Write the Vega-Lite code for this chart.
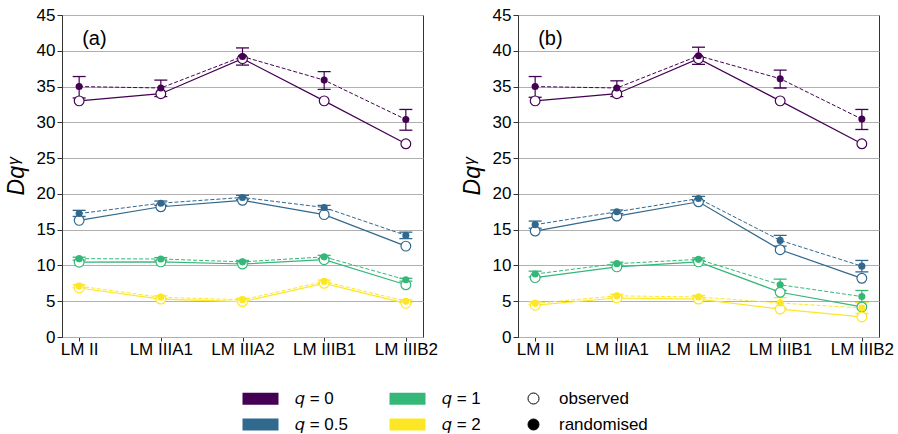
{
  "$schema": "https://vega.github.io/schema/vega-lite/v6.json",
  "background": "white",
  "padding": {"left": 4, "top": 5, "right": 5, "bottom": 0},
  "bounds": "flush",
  "spacing": 95,
  "data": {"values": [
    {"panel":"(a)","period":"LM II","q":"𝑞 = 0","type":"observed","v":33.0},
    {"panel":"(a)","period":"LM IIIA1","q":"𝑞 = 0","type":"observed","v":34.0},
    {"panel":"(a)","period":"LM IIIA2","q":"𝑞 = 0","type":"observed","v":38.9},
    {"panel":"(a)","period":"LM IIIB1","q":"𝑞 = 0","type":"observed","v":33.0},
    {"panel":"(a)","period":"LM IIIB2","q":"𝑞 = 0","type":"observed","v":27.0},
    {"panel":"(a)","period":"LM II","q":"𝑞 = 0","type":"randomised","v":35.0,"lo":33.4,"hi":36.4},
    {"panel":"(a)","period":"LM IIIA1","q":"𝑞 = 0","type":"randomised","v":34.8,"lo":33.6,"hi":35.9},
    {"panel":"(a)","period":"LM IIIA2","q":"𝑞 = 0","type":"randomised","v":39.2,"lo":38.0,"hi":40.4},
    {"panel":"(a)","period":"LM IIIB1","q":"𝑞 = 0","type":"randomised","v":35.9,"lo":34.6,"hi":37.1},
    {"panel":"(a)","period":"LM IIIB2","q":"𝑞 = 0","type":"randomised","v":30.4,"lo":28.9,"hi":31.8},
    {"panel":"(a)","period":"LM II","q":"𝑞 = 0.5","type":"observed","v":16.3},
    {"panel":"(a)","period":"LM IIIA1","q":"𝑞 = 0.5","type":"observed","v":18.2},
    {"panel":"(a)","period":"LM IIIA2","q":"𝑞 = 0.5","type":"observed","v":19.1},
    {"panel":"(a)","period":"LM IIIB1","q":"𝑞 = 0.5","type":"observed","v":17.1},
    {"panel":"(a)","period":"LM IIIB2","q":"𝑞 = 0.5","type":"observed","v":12.7},
    {"panel":"(a)","period":"LM II","q":"𝑞 = 0.5","type":"randomised","v":17.25,"lo":16.85,"hi":17.7},
    {"panel":"(a)","period":"LM IIIA1","q":"𝑞 = 0.5","type":"randomised","v":18.7,"lo":18.4,"hi":19.0},
    {"panel":"(a)","period":"LM IIIA2","q":"𝑞 = 0.5","type":"randomised","v":19.5,"lo":19.2,"hi":19.8},
    {"panel":"(a)","period":"LM IIIB1","q":"𝑞 = 0.5","type":"randomised","v":18.1,"lo":17.8,"hi":18.4},
    {"panel":"(a)","period":"LM IIIB2","q":"𝑞 = 0.5","type":"randomised","v":14.2,"lo":13.75,"hi":14.65},
    {"panel":"(a)","period":"LM II","q":"𝑞 = 1","type":"observed","v":10.45},
    {"panel":"(a)","period":"LM IIIA1","q":"𝑞 = 1","type":"observed","v":10.5},
    {"panel":"(a)","period":"LM IIIA2","q":"𝑞 = 1","type":"observed","v":10.2},
    {"panel":"(a)","period":"LM IIIB1","q":"𝑞 = 1","type":"observed","v":10.8},
    {"panel":"(a)","period":"LM IIIB2","q":"𝑞 = 1","type":"observed","v":7.3},
    {"panel":"(a)","period":"LM II","q":"𝑞 = 1","type":"randomised","v":10.95,"lo":10.75,"hi":11.15},
    {"panel":"(a)","period":"LM IIIA1","q":"𝑞 = 1","type":"randomised","v":10.9,"lo":10.7,"hi":11.1},
    {"panel":"(a)","period":"LM IIIA2","q":"𝑞 = 1","type":"randomised","v":10.5,"lo":10.3,"hi":10.7},
    {"panel":"(a)","period":"LM IIIB1","q":"𝑞 = 1","type":"randomised","v":11.2,"lo":11.0,"hi":11.4},
    {"panel":"(a)","period":"LM IIIB2","q":"𝑞 = 1","type":"randomised","v":8.0,"lo":7.8,"hi":8.2},
    {"panel":"(a)","period":"LM II","q":"𝑞 = 2","type":"observed","v":6.85},
    {"panel":"(a)","period":"LM IIIA1","q":"𝑞 = 2","type":"observed","v":5.3},
    {"panel":"(a)","period":"LM IIIA2","q":"𝑞 = 2","type":"observed","v":4.95},
    {"panel":"(a)","period":"LM IIIB1","q":"𝑞 = 2","type":"observed","v":7.5},
    {"panel":"(a)","period":"LM IIIB2","q":"𝑞 = 2","type":"observed","v":4.7},
    {"panel":"(a)","period":"LM II","q":"𝑞 = 2","type":"randomised","v":7.1,"lo":6.9,"hi":7.3},
    {"panel":"(a)","period":"LM IIIA1","q":"𝑞 = 2","type":"randomised","v":5.55,"lo":5.35,"hi":5.75},
    {"panel":"(a)","period":"LM IIIA2","q":"𝑞 = 2","type":"randomised","v":5.2,"lo":5.0,"hi":5.4},
    {"panel":"(a)","period":"LM IIIB1","q":"𝑞 = 2","type":"randomised","v":7.75,"lo":7.55,"hi":7.95},
    {"panel":"(a)","period":"LM IIIB2","q":"𝑞 = 2","type":"randomised","v":5.0,"lo":4.8,"hi":5.2},
    {"panel":"(b)","period":"LM II","q":"𝑞 = 0","type":"observed","v":33.0},
    {"panel":"(b)","period":"LM IIIA1","q":"𝑞 = 0","type":"observed","v":34.0},
    {"panel":"(b)","period":"LM IIIA2","q":"𝑞 = 0","type":"observed","v":38.9},
    {"panel":"(b)","period":"LM IIIB1","q":"𝑞 = 0","type":"observed","v":33.0},
    {"panel":"(b)","period":"LM IIIB2","q":"𝑞 = 0","type":"observed","v":27.0},
    {"panel":"(b)","period":"LM II","q":"𝑞 = 0","type":"randomised","v":35.0,"lo":33.5,"hi":36.4},
    {"panel":"(b)","period":"LM IIIA1","q":"𝑞 = 0","type":"randomised","v":34.8,"lo":33.6,"hi":35.8},
    {"panel":"(b)","period":"LM IIIA2","q":"𝑞 = 0","type":"randomised","v":39.3,"lo":38.1,"hi":40.5},
    {"panel":"(b)","period":"LM IIIB1","q":"𝑞 = 0","type":"randomised","v":36.1,"lo":34.8,"hi":37.3},
    {"panel":"(b)","period":"LM IIIB2","q":"𝑞 = 0","type":"randomised","v":30.45,"lo":29.0,"hi":31.8},
    {"panel":"(b)","period":"LM II","q":"𝑞 = 0.5","type":"observed","v":14.8},
    {"panel":"(b)","period":"LM IIIA1","q":"𝑞 = 0.5","type":"observed","v":16.9},
    {"panel":"(b)","period":"LM IIIA2","q":"𝑞 = 0.5","type":"observed","v":18.9},
    {"panel":"(b)","period":"LM IIIB1","q":"𝑞 = 0.5","type":"observed","v":12.2},
    {"panel":"(b)","period":"LM IIIB2","q":"𝑞 = 0.5","type":"observed","v":8.2},
    {"panel":"(b)","period":"LM II","q":"𝑞 = 0.5","type":"randomised","v":15.7,"lo":15.2,"hi":16.2},
    {"panel":"(b)","period":"LM IIIA1","q":"𝑞 = 0.5","type":"randomised","v":17.5,"lo":17.25,"hi":17.75},
    {"panel":"(b)","period":"LM IIIA2","q":"𝑞 = 0.5","type":"randomised","v":19.35,"lo":19.05,"hi":19.65},
    {"panel":"(b)","period":"LM IIIB1","q":"𝑞 = 0.5","type":"randomised","v":13.5,"lo":12.7,"hi":14.2},
    {"panel":"(b)","period":"LM IIIB2","q":"𝑞 = 0.5","type":"randomised","v":9.9,"lo":9.1,"hi":10.7},
    {"panel":"(b)","period":"LM II","q":"𝑞 = 1","type":"observed","v":8.3},
    {"panel":"(b)","period":"LM IIIA1","q":"𝑞 = 1","type":"observed","v":9.8},
    {"panel":"(b)","period":"LM IIIA2","q":"𝑞 = 1","type":"observed","v":10.5},
    {"panel":"(b)","period":"LM IIIB1","q":"𝑞 = 1","type":"observed","v":6.25},
    {"panel":"(b)","period":"LM IIIB2","q":"𝑞 = 1","type":"observed","v":4.2},
    {"panel":"(b)","period":"LM II","q":"𝑞 = 1","type":"randomised","v":8.8,"lo":8.4,"hi":9.2},
    {"panel":"(b)","period":"LM IIIA1","q":"𝑞 = 1","type":"randomised","v":10.25,"lo":10.05,"hi":10.45},
    {"panel":"(b)","period":"LM IIIA2","q":"𝑞 = 1","type":"randomised","v":10.85,"lo":10.65,"hi":11.05},
    {"panel":"(b)","period":"LM IIIB1","q":"𝑞 = 1","type":"randomised","v":7.3,"lo":6.5,"hi":8.1},
    {"panel":"(b)","period":"LM IIIB2","q":"𝑞 = 1","type":"randomised","v":5.65,"lo":4.85,"hi":6.5},
    {"panel":"(b)","period":"LM II","q":"𝑞 = 2","type":"observed","v":4.45},
    {"panel":"(b)","period":"LM IIIA1","q":"𝑞 = 2","type":"observed","v":5.45},
    {"panel":"(b)","period":"LM IIIA2","q":"𝑞 = 2","type":"observed","v":5.3},
    {"panel":"(b)","period":"LM IIIB1","q":"𝑞 = 2","type":"observed","v":3.9},
    {"panel":"(b)","period":"LM IIIB2","q":"𝑞 = 2","type":"observed","v":2.8},
    {"panel":"(b)","period":"LM II","q":"𝑞 = 2","type":"randomised","v":4.7,"lo":4.5,"hi":4.9},
    {"panel":"(b)","period":"LM IIIA1","q":"𝑞 = 2","type":"randomised","v":5.75,"lo":5.55,"hi":5.95},
    {"panel":"(b)","period":"LM IIIA2","q":"𝑞 = 2","type":"randomised","v":5.6,"lo":5.4,"hi":5.8},
    {"panel":"(b)","period":"LM IIIB1","q":"𝑞 = 2","type":"randomised","v":4.75,"lo":4.05,"hi":5.5},
    {"panel":"(b)","period":"LM IIIB2","q":"𝑞 = 2","type":"randomised","v":4.05,"lo":3.3,"hi":4.8}
  ]},
  "facet": {"column": {"field": "panel", "type": "nominal", "header": null}},
  "resolve": {"axis": {"y": "independent"}},
  "spec": {
    "width": 361,
    "height": 322,
    "encoding": {
      "x": {
        "field": "period", "type": "ordinal",
        "sort": ["LM II", "LM IIIA1", "LM IIIA2", "LM IIIB1", "LM IIIB2"],
        "scale": {"type": "point", "padding": 0.21},
        "axis": {"title": null, "labelAngle": 0, "tickSize": 4, "labelPadding": 0, "grid": false}
      }
    },
    "layer": [
      {
        "transform": [{"filter": "datum.type === 'observed'"}],
        "mark": {"type": "line", "strokeWidth": 1.2},
        "encoding": {
          "y": {
            "field": "v", "type": "quantitative",
            "scale": {"domain": [0, 45]},
            "axis": {"title": "Dqᵞ", "titleFontStyle": "italic", "titleFontSize": 23, "titleFontWeight": "normal", "titlePadding": 8, "values": [0,5,10,15,20,25,30,35,40,45], "labelOverlap": false, "tickSize": 5, "labelPadding": 2, "grid": true}
          },
          "color": {
            "field": "q", "type": "nominal",
            "scale": {"domain": ["𝑞 = 0", "𝑞 = 0.5", "𝑞 = 1", "𝑞 = 2"], "range": ["#440154", "#31688e", "#35b779", "#fde725"]},
            "legend": {
              "title": null, "orient": "none", "legendX": 178, "legendY": 375,
              "columns": 2, "direction": "vertical", "gridAlign": "all",
              "symbolType": "M-1,-1H5V1H-1Z", "symbolSize": 144, "symbolStrokeWidth": 0,
              "labelOffset": 38, "columnPadding": 38, "rowPadding": 8,
              "labelFontSize": 17, "labelFont": "Liberation Sans", "labelColor": "black"
            }
          }
        }
      },
      {
        "transform": [{"filter": "datum.type === 'randomised'"}],
        "mark": {"type": "line", "strokeWidth": 1, "strokeDash": [4, 2]},
        "encoding": {"y": {"field": "v", "type": "quantitative"}, "color": {"field": "q", "type": "nominal"}}
      },
      {
        "transform": [{"filter": "datum.type === 'randomised'"}],
        "mark": {"type": "rule", "strokeWidth": 1.2},
        "encoding": {"y": {"field": "lo", "type": "quantitative"}, "y2": {"field": "hi"}, "color": {"field": "q", "type": "nominal"}}
      },
      {
        "transform": [{"filter": "datum.type === 'randomised'"}],
        "mark": {"type": "tick", "orient": "horizontal", "size": 13, "thickness": 1.3, "opacity": 1},
        "encoding": {"y": {"field": "lo", "type": "quantitative"}, "color": {"field": "q", "type": "nominal"}}
      },
      {
        "transform": [{"filter": "datum.type === 'randomised'"}],
        "mark": {"type": "tick", "orient": "horizontal", "size": 13, "thickness": 1.3, "opacity": 1},
        "encoding": {"y": {"field": "hi", "type": "quantitative"}, "color": {"field": "q", "type": "nominal"}}
      },
      {
        "transform": [{"filter": "datum.type === 'observed'"}],
        "mark": {"type": "point", "filled": true, "strokeWidth": 1.2, "size": 95, "opacity": 1, "fillOpacity": 1, "strokeOpacity": 1},
        "encoding": {
          "y": {"field": "v", "type": "quantitative"},
          "stroke": {
            "field": "q", "type": "nominal",
            "scale": {"domain": ["𝑞 = 0", "𝑞 = 0.5", "𝑞 = 1", "𝑞 = 2"], "range": ["#440154", "#31688e", "#35b779", "#fde725"]},
            "legend": null
          },
          "fill": {
            "field": "type", "type": "nominal",
            "scale": {"domain": ["observed", "randomised"], "range": ["#ffffff", "#000000"]},
            "legend": {
              "title": null, "orient": "none", "legendX": 463, "legendY": 375,
              "symbolType": "circle", "symbolSize": 121, "rowPadding": 8, "labelOffset": 17,
              "symbolStrokeColor": "black", "symbolStrokeWidth": 1, "symbolOpacity": 1,
              "labelFontSize": 17, "labelFont": "Liberation Sans", "labelColor": "black"
            }
          }
        }
      },
      {
        "transform": [{"filter": "datum.type === 'randomised'"}],
        "mark": {"type": "point", "filled": true, "size": 50, "opacity": 1},
        "encoding": {
          "y": {"field": "v", "type": "quantitative"},
          "color": {"field": "q", "type": "nominal"}
        }
      },
      {
        "transform": [{"filter": "datum.type === 'observed' && datum.period === 'LM II' && datum.q === '𝑞 = 0'"}],
        "mark": {"type": "text", "align": "left", "baseline": "middle", "dx": 3, "fontSize": 20, "font": "Liberation Sans", "color": "black"},
        "encoding": {
          "y": {"datum": 41.6, "type": "quantitative"},
          "text": {"field": "panel"}
        }
      }
    ]
  },
  "config": {
    "font": "Liberation Sans",
    "view": {"stroke": "#333333", "strokeWidth": 1},
    "axis": {
      "labelFont": "Liberation Sans", "labelFontSize": 17, "labelColor": "black",
      "titleFont": "Liberation Sans", "titleColor": "black",
      "domainColor": "#333333", "tickColor": "#333333",
      "gridColor": "#b0b0b0", "gridWidth": 1
    },
    "axisY": {"tickCount": 10, "labelOverlap": false},
    "legend": {"padding": 0}
  }
}
